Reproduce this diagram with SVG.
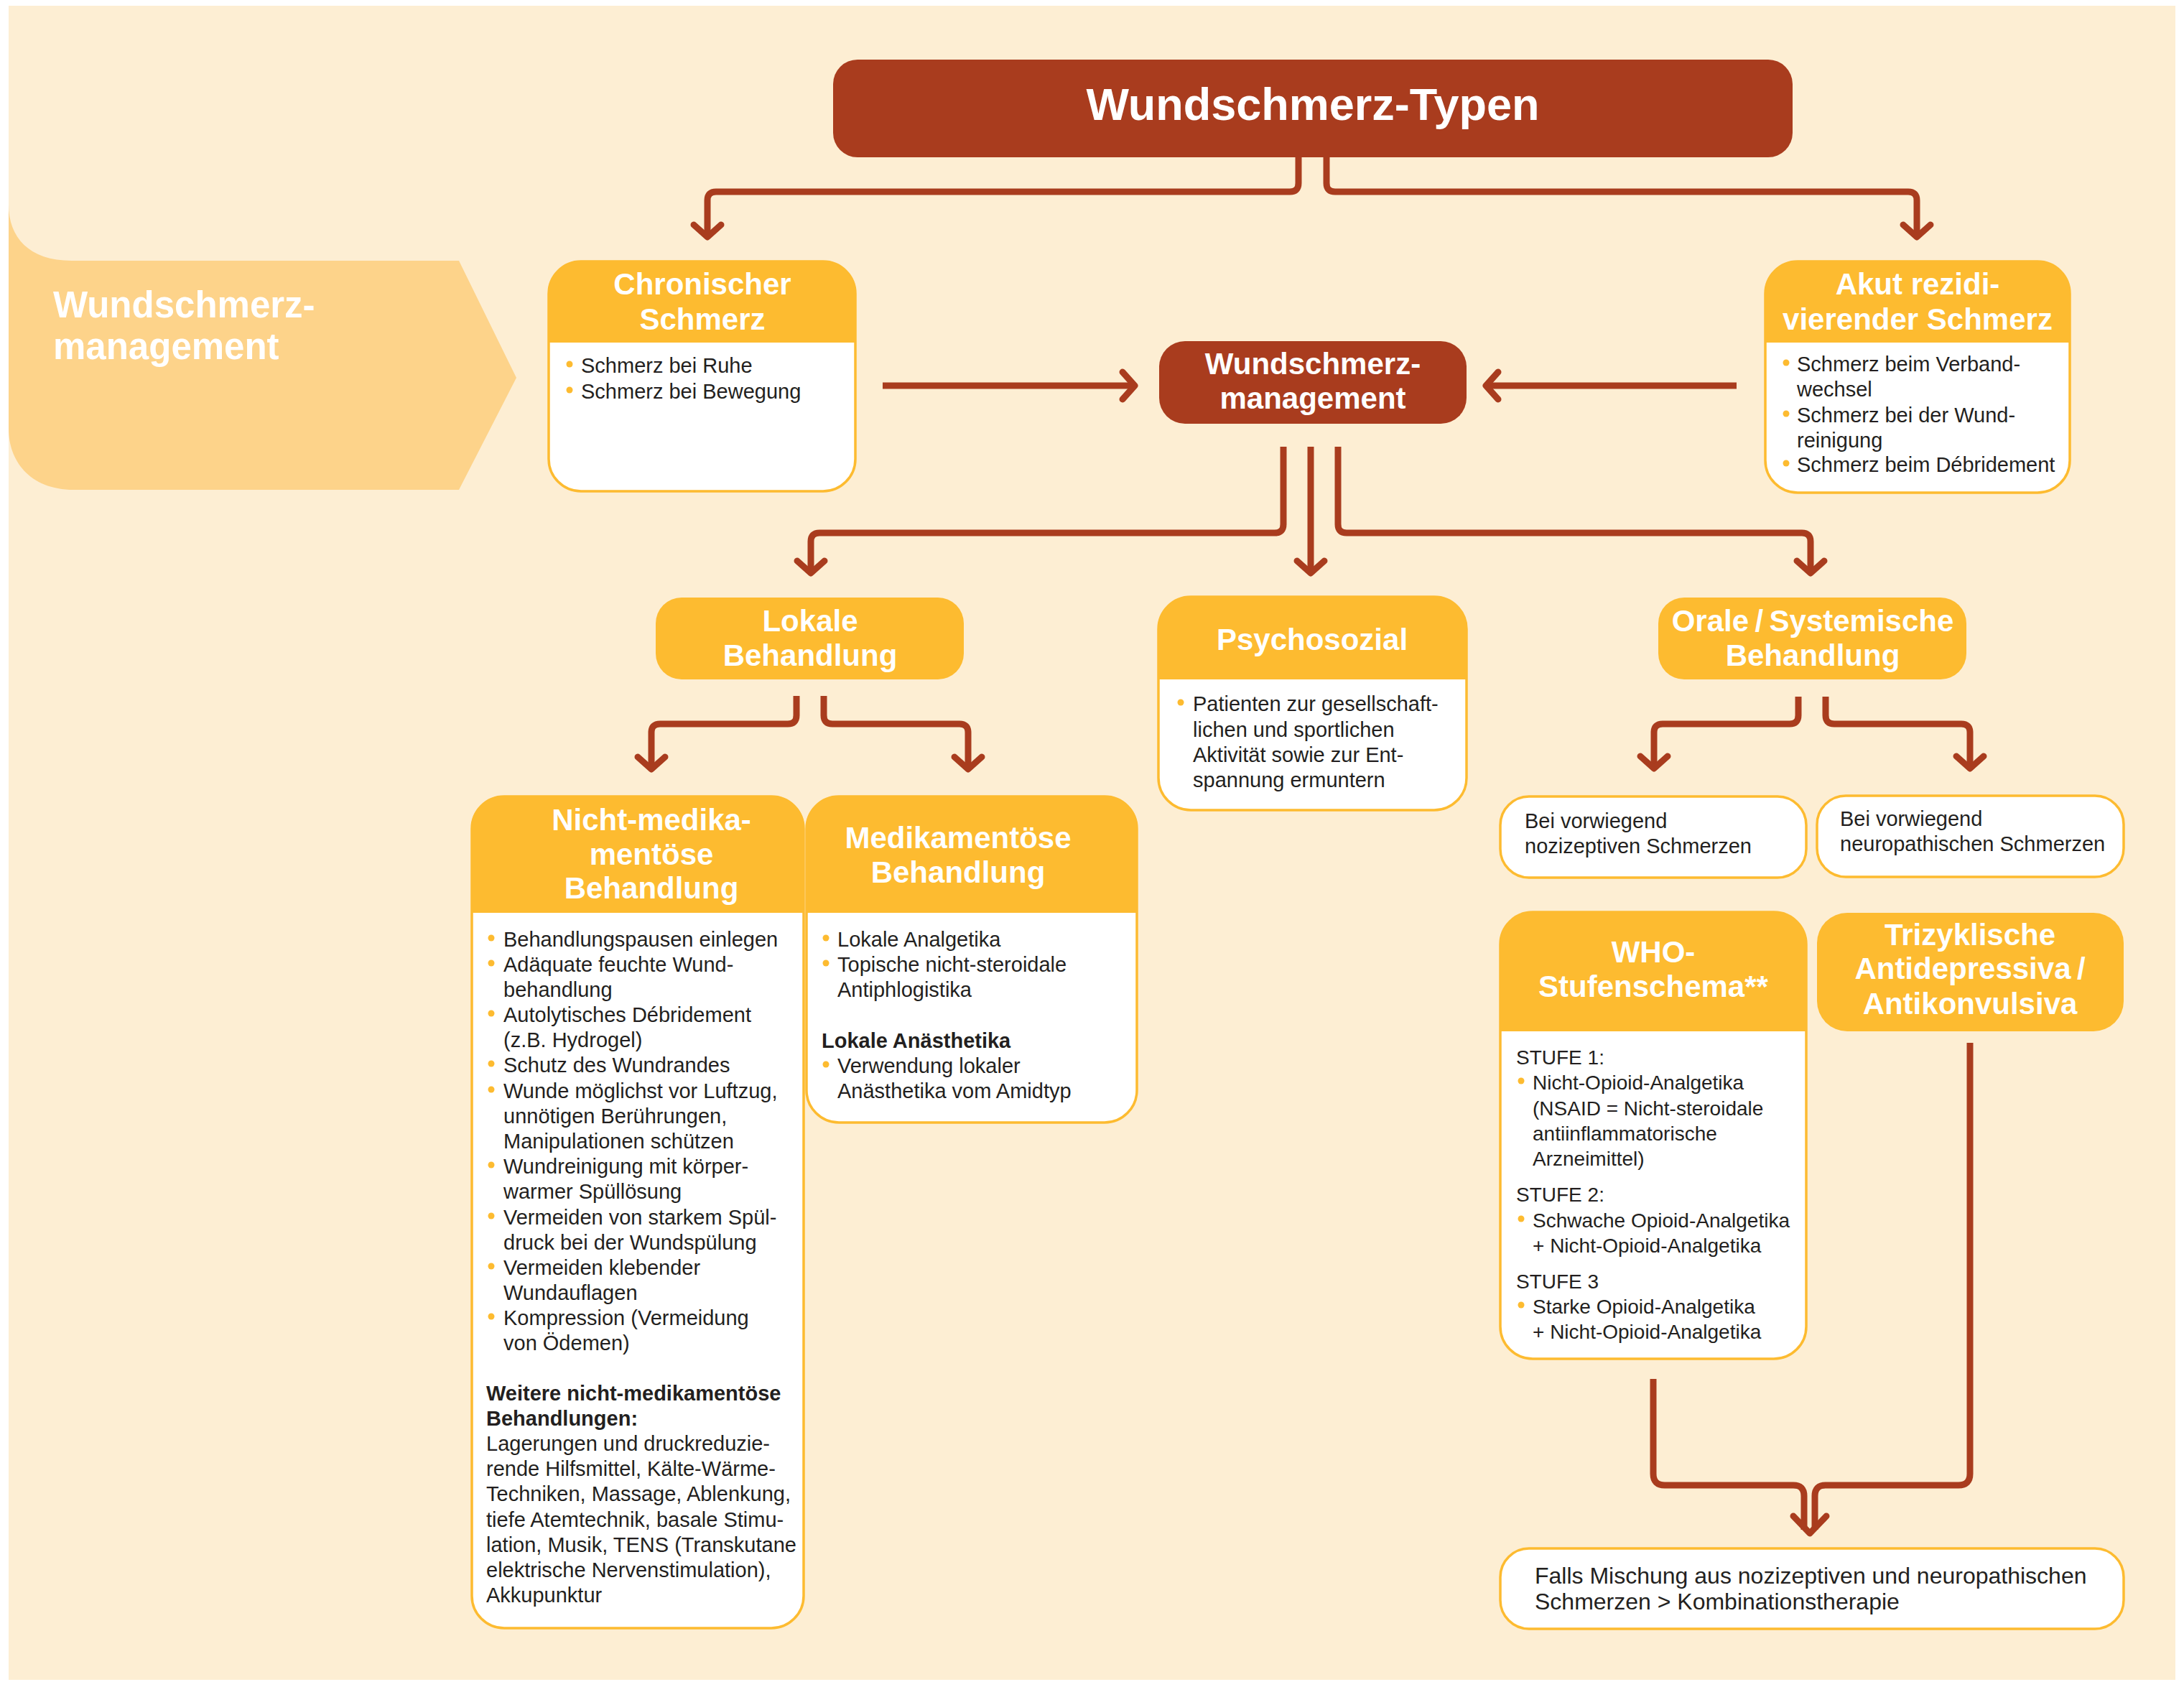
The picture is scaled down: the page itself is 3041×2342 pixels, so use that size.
<svg xmlns="http://www.w3.org/2000/svg" width="3041" height="2342" viewBox="0 0 3041 2342">
<defs>
<style>
.bg{fill:#FDEED3}
.band{fill:#FDD38A}
.dark{fill:#A93C1E}
.or{fill:#FDBB30}
.wbox{fill:#FFFFFF;stroke:#FDBB30;stroke-width:3.5}
.hd{font-family:"Liberation Sans",Arial,sans-serif;font-weight:bold;font-size:42px;fill:#FFFFFF;text-anchor:middle}
.tx{font-family:"Liberation Sans",Arial,sans-serif;font-size:29px;fill:#231F20}
.txs{font-family:"Liberation Sans",Arial,sans-serif;font-size:28px;fill:#231F20}
.txl{font-family:"Liberation Sans",Arial,sans-serif;font-size:32px;fill:#231F20}
.b{font-weight:bold}
.dot{fill:#FDBB30}
.con{fill:none;stroke:#A93C1E;stroke-width:9;stroke-linejoin:round}
.head{fill:none;stroke:#A93C1E;stroke-width:9;stroke-linecap:round;stroke-linejoin:round}
</style>
<marker id="arr" markerUnits="userSpaceOnUse" viewBox="-30 -30 60 60" markerWidth="60" markerHeight="60" refX="0" refY="0" orient="auto">
<path d="M-17,-19 L0,0 L-17,19" fill="none" stroke="#A93C1E" stroke-width="9" stroke-linecap="round" stroke-linejoin="round"/>
</marker>
</defs>

<rect x="0" y="0" width="3041" height="2342" fill="#FFFFFF"/>
<rect class="bg" x="12" y="8" width="3017" height="2331"/>

<g id="band">
<path class="band" d="M12,285 C12,330 40,363 100,363 L639,363 L719,526 L639,682 L103,682 C40,682 12,640 12,597 Z"/>
<text class="hd" style="text-anchor:start;font-size:51px" x="74" y="442">Wundschmerz-</text>
<text class="hd" style="text-anchor:start;font-size:51px" x="74" y="500">management</text>
</g>

<g id="connectors">
<path class="con" marker-end="url(#arr)" d="M1808,219 V255 Q1808,267 1796,267 H997 Q985,267 985,279 V330"/>
<path class="con" marker-end="url(#arr)" d="M1847,219 V255 Q1847,267 1859,267 H2657 Q2669,267 2669,279 V330"/>
<path class="con" marker-end="url(#arr)" d="M1229,537 H1580"/>
<path class="con" marker-end="url(#arr)" d="M2418,537 H2069"/>
<path class="con" marker-end="url(#arr)" d="M1787,622 V730 Q1787,742 1775,742 H1141 Q1129,742 1129,754 V798"/>
<path class="con" marker-end="url(#arr)" d="M1825,622 V798"/>
<path class="con" marker-end="url(#arr)" d="M1863,622 V730 Q1863,742 1875,742 H2509 Q2521,742 2521,754 V798"/>
<path class="con" marker-end="url(#arr)" d="M1109,969 V996 Q1109,1008 1097,1008 H919 Q907,1008 907,1020 V1071"/>
<path class="con" marker-end="url(#arr)" d="M1147,969 V996 Q1147,1008 1159,1008 H1336 Q1348,1008 1348,1020 V1071"/>
<path class="con" marker-end="url(#arr)" d="M2504,970 V996 Q2504,1008 2492,1008 H2315 Q2303,1008 2303,1020 V1070"/>
<path class="con" marker-end="url(#arr)" d="M2542,970 V996 Q2542,1008 2554,1008 H2731 Q2743,1008 2743,1020 V1070"/>
<path class="con" d="M2302,1920 V2052 Q2302,2068 2318,2068 H2497 Q2512,2068 2512,2083 V2130"/>
<path class="con" d="M2743,1452 V2052 Q2743,2068 2727,2068 H2542 Q2527,2068 2527,2083 V2130"/>
<path class="head" d="M2497,2111 L2520,2135 L2543,2111"/>
</g>

<g id="title">
<rect class="dark" x="1160" y="83" width="1336" height="136" rx="34"/>
<text class="hd" style="font-size:63px" x="1828" y="167">Wundschmerz-Typen</text>
</g>

<g id="chronisch">
<rect class="wbox" x="764" y="364" width="427" height="320" rx="45"/>
<path class="or" d="M764,477 V409 A45,45 0 0 1 809,364 H1146 A45,45 0 0 1 1191,409 V477 Z"/>
<text class="hd" x="978" y="410">Chronischer</text>
<text class="hd" x="978" y="459">Schmerz</text>
<circle class="dot" cx="793" cy="507" r="4.5"/>
<text class="tx" x="809" y="519">Schmerz bei Ruhe</text>
<circle class="dot" cx="793" cy="543" r="4.5"/>
<text class="tx" x="809" y="555">Schmerz bei Bewegung</text>
</g>

<g id="akut">
<rect class="wbox" x="2458" y="364" width="424" height="322" rx="45"/>
<path class="or" d="M2458,477 V409 A45,45 0 0 1 2503,364 H2837 A45,45 0 0 1 2882,409 V477 Z"/>
<text class="hd" x="2670" y="410">Akut rezidi-</text>
<text class="hd" x="2670" y="459">vierender Schmerz</text>
<circle class="dot" cx="2487" cy="505" r="4.5"/>
<text class="tx" x="2502" y="517">Schmerz beim Verband-</text>
<text class="tx" x="2502" y="552">wechsel</text>
<circle class="dot" cx="2487" cy="576" r="4.5"/>
<text class="tx" x="2502" y="588">Schmerz bei der Wund-</text>
<text class="tx" x="2502" y="623">reinigung</text>
<circle class="dot" cx="2487" cy="645" r="4.5"/>
<text class="tx" x="2502" y="657">Schmerz beim Débridement</text>
</g>

<g id="management">
<rect class="dark" x="1614" y="475" width="428" height="115" rx="36"/>
<text class="hd" x="1828" y="521">Wundschmerz-</text>
<text class="hd" x="1828" y="569">management</text>
</g>

<g id="lokale">
<rect class="or" x="913" y="832" width="429" height="114" rx="36"/>
<text class="hd" x="1128" y="879">Lokale</text>
<text class="hd" x="1128" y="927">Behandlung</text>
</g>

<g id="psychosozial">
<rect class="wbox" x="1613" y="831" width="429" height="297" rx="45"/>
<path class="or" d="M1613,946 V876 A45,45 0 0 1 1658,831 H1997 A45,45 0 0 1 2042,876 V946 Z"/>
<text class="hd" x="1827" y="905">Psychosozial</text>
<circle class="dot" cx="1644" cy="978" r="4.5"/>
<text class="tx" x="1661" y="990">Patienten zur gesellschaft-</text>
<text class="tx" x="1661" y="1026">lichen und sportlichen</text>
<text class="tx" x="1661" y="1061">Aktivität sowie zur Ent-</text>
<text class="tx" x="1661" y="1096">spannung ermuntern</text>
</g>

<g id="orale">
<rect class="or" x="2309" y="832" width="429" height="114" rx="36"/>
<text class="hd" x="2524" y="879">Orale&#8201;/&#8201;Systemische</text>
<text class="hd" x="2524" y="927">Behandlung</text>
</g>

<g id="nichtmed">
<rect class="wbox" x="657" y="1109" width="462" height="1158" rx="45"/>
<path class="or" d="M656,1271 V1153 A45,45 0 0 1 701,1108 H1075 A45,45 0 0 1 1120,1153 V1271 Z"/>
<text class="hd" x="907" y="1156">Nicht-medika-</text>
<text class="hd" x="907" y="1204">mentöse</text>
<text class="hd" x="907" y="1251">Behandlung</text>
<g class="tx">
<circle class="dot" cx="684" cy="1306" r="4.5"/>
<text x="701" y="1318">Behandlungspausen einlegen</text>
<circle class="dot" cx="684" cy="1341" r="4.5"/>
<text x="701" y="1353">Adäquate feuchte Wund-</text>
<text x="701" y="1388">behandlung</text>
<circle class="dot" cx="684" cy="1411" r="4.5"/>
<text x="701" y="1423">Autolytisches Débridement</text>
<text x="701" y="1458">(z.B. Hydrogel)</text>
<circle class="dot" cx="684" cy="1481" r="4.5"/>
<text x="701" y="1493">Schutz des Wundrandes</text>
<circle class="dot" cx="684" cy="1517" r="4.5"/>
<text x="701" y="1529">Wunde möglichst vor Luftzug,</text>
<text x="701" y="1564">unnötigen Berührungen,</text>
<text x="701" y="1599">Manipulationen schützen</text>
<circle class="dot" cx="684" cy="1622" r="4.5"/>
<text x="701" y="1634">Wundreinigung mit körper-</text>
<text x="701" y="1669">warmer Spüllösung</text>
<circle class="dot" cx="684" cy="1693" r="4.5"/>
<text x="701" y="1705">Vermeiden von starkem Spül-</text>
<text x="701" y="1740">druck bei der Wundspülung</text>
<circle class="dot" cx="684" cy="1763" r="4.5"/>
<text x="701" y="1775">Vermeiden klebender</text>
<text x="701" y="1810">Wundauflagen</text>
<circle class="dot" cx="684" cy="1833" r="4.5"/>
<text x="701" y="1845">Kompression (Vermeidung</text>
<text x="701" y="1880">von Ödemen)</text>
<text class="b" x="677" y="1950">Weitere nicht-medikamentöse</text>
<text class="b" x="677" y="1985">Behandlungen:</text>
<text x="677" y="2020">Lagerungen und druckreduzie-</text>
<text x="677" y="2055">rende Hilfsmittel, Kälte-Wärme-</text>
<text x="677" y="2090">Techniken, Massage, Ablenkung,</text>
<text x="677" y="2126">tiefe Atemtechnik, basale Stimu-</text>
<text x="677" y="2161">lation, Musik, TENS (Transkutane</text>
<text x="677" y="2196">elektrische Nervenstimulation),</text>
<text x="677" y="2231">Akkupunktur</text>
</g>
</g>

<g id="medik">
<rect class="wbox" x="1123" y="1109" width="460" height="454" rx="45"/>
<path class="or" d="M1122,1271 V1153 A45,45 0 0 1 1167,1108 H1539 A45,45 0 0 1 1584,1153 V1271 Z"/>
<text class="hd" x="1334" y="1181">Medikamentöse</text>
<text class="hd" x="1334" y="1229">Behandlung</text>
<g class="tx">
<circle class="dot" cx="1150" cy="1306" r="4.5"/>
<text x="1166" y="1318">Lokale Analgetika</text>
<circle class="dot" cx="1150" cy="1341" r="4.5"/>
<text x="1166" y="1353">Topische nicht-steroidale</text>
<text x="1166" y="1388">Antiphlogistika</text>
<text class="b" x="1144" y="1459">Lokale Anästhetika</text>
<circle class="dot" cx="1150" cy="1482" r="4.5"/>
<text x="1166" y="1494">Verwendung lokaler</text>
<text x="1166" y="1529">Anästhetika vom Amidtyp</text>
</g>
</g>

<g id="nozizeptiv">
<rect class="wbox" x="2089" y="1109" width="426" height="113" rx="40"/>
<text class="tx" x="2123" y="1153">Bei vorwiegend</text>
<text class="tx" x="2123" y="1188">nozizeptiven Schmerzen</text>
</g>

<g id="neuropathisch">
<rect class="wbox" x="2530" y="1108" width="427" height="113" rx="40"/>
<text class="tx" x="2562" y="1150">Bei vorwiegend</text>
<text class="tx" x="2562" y="1185">neuropathischen Schmerzen</text>
</g>

<g id="who">
<rect class="wbox" x="2089" y="1270" width="426" height="622" rx="45"/>
<path class="or" d="M2089,1436 V1315 A45,45 0 0 1 2134,1270 H2470 A45,45 0 0 1 2515,1315 V1436 Z"/>
<text class="hd" x="2302" y="1340">WHO-</text>
<text class="hd" x="2302" y="1388">Stufenschema**</text>
<g class="txs">
<text x="2111" y="1482">STUFE 1:</text>
<circle class="dot" cx="2118" cy="1505" r="4.5"/>
<text x="2134" y="1517">Nicht-Opioid-Analgetika</text>
<text x="2134" y="1553">(NSAID = Nicht-steroidale</text>
<text x="2134" y="1588">antiinflammatorische</text>
<text x="2134" y="1623">Arzneimittel)</text>
<text x="2111" y="1673">STUFE 2:</text>
<circle class="dot" cx="2118" cy="1697" r="4.5"/>
<text x="2134" y="1709">Schwache Opioid-Analgetika</text>
<text x="2134" y="1744">+ Nicht-Opioid-Analgetika</text>
<text x="2111" y="1794">STUFE 3</text>
<circle class="dot" cx="2118" cy="1817" r="4.5"/>
<text x="2134" y="1829">Starke Opioid-Analgetika</text>
<text x="2134" y="1864">+ Nicht-Opioid-Analgetika</text>
</g>
</g>

<g id="trizyklisch">
<rect class="or" x="2530" y="1271" width="427" height="165" rx="42"/>
<text class="hd" x="2743" y="1316">Trizyklische</text>
<text class="hd" x="2743" y="1363">Antidepressiva&#8201;/</text>
<text class="hd" x="2743" y="1412">Antikonvulsiva</text>
</g>

<g id="kombination">
<rect class="wbox" x="2089" y="2156" width="868" height="112" rx="40"/>
<text class="txl" x="2137" y="2205">Falls Mischung aus nozizeptiven und neuropathischen</text>
<text class="txl" x="2137" y="2241">Schmerzen &gt; Kombinationstherapie</text>
</g>
</svg>
